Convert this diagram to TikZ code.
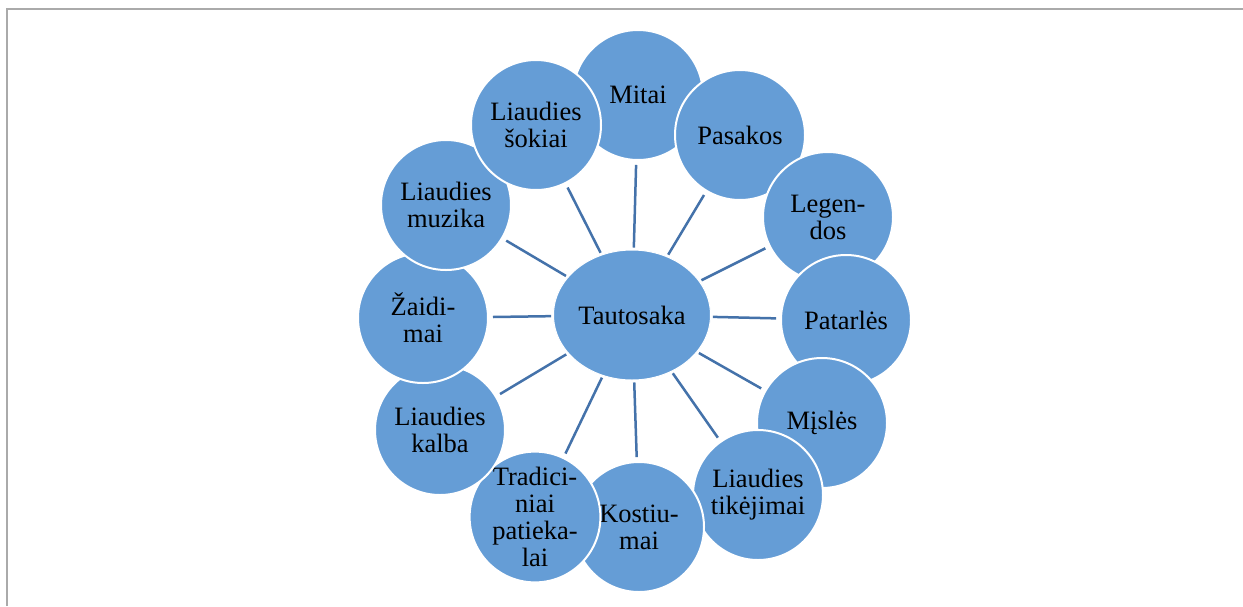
\documentclass[tikz,border=0pt]{standalone}
\usepackage{fontspec}
\setmainfont{Liberation Serif}
\usetikzlibrary{shapes.geometric}
\definecolor{fillblue}{RGB}{101,157,214}
\definecolor{linkblue}{RGB}{68,114,170}
\definecolor{framegray}{RGB}{170,170,170}
\tikzset{
  bubble/.style={circle, fill=fillblue, draw=white, line width=2pt, minimum size=130pt, inner sep=0pt, align=center, font=\fontsize{26.5}{27}\selectfont},
  hub/.style={ellipse, fill=fillblue, draw=white, line width=1pt, minimum width=157pt, minimum height=130pt, inner sep=0pt, align=center, font=\fontsize{26.5}{27}\selectfont},
  link/.style={draw=linkblue, line width=2.5pt, shorten <=2pt, shorten >=4pt}
}
\begin{document}
\begin{tikzpicture}[x=1pt,y=-1pt]
\useasboundingbox (0,0) rectangle (1243,606);
\fill[white] (0,0) rectangle (1243,606);
\draw[framegray, line width=2pt] (7,606) -- (7,9) -- (1243,9);

\node[hub] (c) at (632,315) {Tautosaka};

\node[bubble] (mit) at (638,95) {Mitai};
\node[bubble] (pas) at (740,135) {Pasakos};
\node[bubble] (leg) at (828,217) {Legen-\\dos};
\node[bubble] (pat) at (846,320) {Patarlės};
\node[bubble] (mis) at (822,423) {Mįslės};
\node[bubble] (tik) at (758,495) {Liaudies\\tikėjimai};
\node[bubble] (kos) at (639,527) {Kostiu-\\mai};
\node[bubble] (tra) at (535,517) {Tradici-\\niai\\patieka-\\lai};
\node[bubble] (kal) at (440,430) {Liaudies\\kalba};
\node[bubble] (zai) at (423,318) {Žaidi-\\mai};
\node[bubble] (muz) at (446,205) {Liaudies\\muzika};
\node[bubble] (sok) at (536,125) {Liaudies\\šokiai};

\foreach \t in {mit,pas,leg,pat,mis,tik,kos,tra,kal,zai,muz,sok}
  \draw[link] (c) -- (\t);
\end{tikzpicture}
\end{document}
